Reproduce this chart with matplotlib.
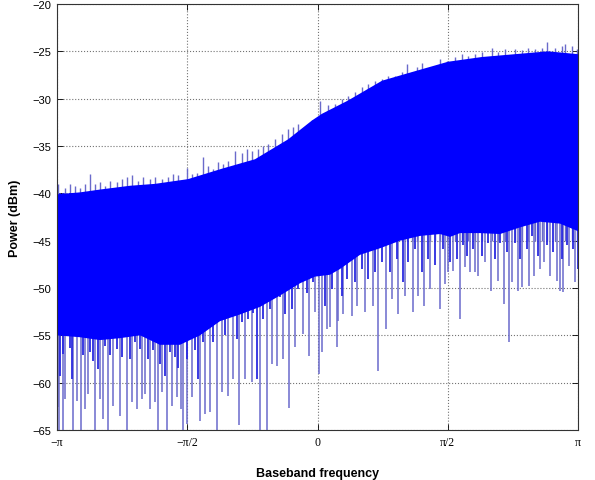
import numpy as np
import matplotlib
matplotlib.use("Agg")
import matplotlib.pyplot as plt

# frequencies below are in units of pi (-1 .. 1), power in dBm

# top edge of the solid band
top_f = [-1.0, -0.912, -0.835, -0.720, -0.624, -0.497, -0.367, -0.240, -0.113, -0.021,
         0.017, 0.117, 0.248, 0.374, 0.501, 0.631, 0.758, 0.885, 1.0]
top_db = [-40.1, -39.9, -39.6, -39.2, -39.0, -38.5, -37.4, -36.4, -34.3, -32.3,
          -31.6, -30.2, -28.1, -27.1, -26.1, -25.6, -25.3, -25.0, -25.3]

# bottom edge of the solid band
bot_f = [-1.0, -0.912, -0.835, -0.758, -0.681, -0.605, -0.528, -0.451, -0.374, -0.298,
         -0.221, -0.144, -0.067, -0.010, 0.048, 0.086, 0.163, 0.240, 0.317, 0.393,
         0.470, 0.509, 0.547, 0.624, 0.701, 0.777, 0.854, 0.931, 1.0]
bot_db = [-55.0, -55.2, -55.5, -55.3, -55.0, -56.0, -56.0, -55.0, -53.5, -52.8,
          -52.0, -50.8, -49.5, -48.8, -48.6, -48.0, -46.5, -45.8, -45.0, -44.5,
          -44.3, -44.6, -44.2, -44.2, -44.3, -43.6, -43.0, -43.2, -44.0]

# long downward spikes (tips)
dip_f = [-0.997, -0.992, -0.977, -0.969, -0.939, -0.923, -0.908, -0.893, -0.881, -0.854,
         -0.835, -0.823, -0.804, -0.785, -0.758, -0.731, -0.712, -0.693, -0.674, -0.662,
         -0.643, -0.624, -0.612, -0.597, -0.578, -0.559, -0.539, -0.524, -0.516, -0.501,
         -0.482, -0.451, -0.432, -0.413, -0.386, -0.367, -0.344, -0.324, -0.301, -0.278,
         -0.251, -0.221, -0.194, -0.175, -0.155, -0.132, -0.109, -0.086, -0.056, -0.033,
         -0.010, 0.006, 0.017, 0.036, 0.048, 0.075, 0.079, 0.098, 0.132, 0.152,
         0.182, 0.213, 0.232, 0.263, 0.286, 0.309, 0.336, 0.367, 0.386, 0.409,
         0.432, 0.470, 0.489, 0.501, 0.520, 0.547, 0.566, 0.585, 0.605, 0.616,
         0.643, 0.666, 0.693, 0.716, 0.735, 0.747, 0.770, 0.785, 0.812, 0.831,
         0.854, 0.869, 0.893, 0.919, 0.931, 0.942, 0.965, 0.988]
dip_db = [-62.6, -65.0, -65.0, -61.7, -65.0, -61.9, -65.0, -62.8, -61.2, -65.0,
          -61.7, -63.8, -65.0, -62.5, -63.5, -65.0, -62.0, -62.8, -61.7, -61.2,
          -62.8, -62.0, -65.0, -61.0, -65.0, -62.5, -61.5, -62.8, -65.0, -64.4,
          -61.5, -64.0, -63.3, -63.1, -65.0, -61.0, -61.4, -59.6, -64.5, -59.6,
          -59.9, -65.0, -65.0, -58.0, -58.2, -57.5, -62.7, -56.2, -54.9, -57.2,
          -52.5, -59.1, -56.8, -54.3, -54.1, -56.2, -53.5, -52.7, -53.0, -51.9,
          -52.5, -51.9, -58.8, -54.3, -51.2, -52.7, -50.8, -52.5, -50.8, -51.9,
          -50.1, -52.2, -49.6, -48.3, -48.2, -53.3, -47.8, -48.3, -48.3, -48.7,
          -47.3, -50.3, -49.3, -51.7, -55.7, -49.4, -50.3, -49.9, -49.8, -48.7,
          -48.0, -47.3, -48.7, -49.3, -50.3, -50.4, -47.7, -49.4]

# shorter downward spikes just below the solid band
mid_f = [-0.988, -0.976, -0.950, -0.944, -0.899, -0.873, -0.861, -0.841, -0.816, -0.797,
         -0.771, -0.752, -0.720, -0.701, -0.681, -0.650, -0.630, -0.605, -0.585, -0.566,
         -0.547, -0.534, -0.502, -0.489, -0.470, -0.458, -0.438, -0.419, -0.400, -0.374,
         -0.355, -0.329, -0.310, -0.291, -0.266, -0.246, -0.233, -0.208, -0.182, -0.170,
         -0.144, -0.125, -0.099, -0.074, -0.041, -0.016, 0.029, 0.054, 0.093, 0.112,
         0.144, 0.170, 0.195, 0.221, 0.246, 0.278, 0.304, 0.329, 0.349, 0.374,
         0.400, 0.425, 0.451, 0.483, 0.509, 0.534, 0.560, 0.573, 0.598, 0.630,
         0.656, 0.681, 0.701, 0.726, 0.758, 0.777, 0.803, 0.822, 0.848, 0.880,
         0.905, 0.937, 0.957, 0.982, 0.999]
mid_db = [-59.3, -57.0, -56.3, -59.6, -57.1, -56.8, -57.7, -58.6, -56.1, -57.1,
          -56.4, -57.3, -57.5, -55.7, -56.4, -57.5, -56.6, -58.0, -59.3, -56.8,
          -57.3, -58.4, -57.5, -55.4, -56.6, -59.6, -55.7, -54.0, -55.7, -51.3,
          -55.0, -51.9, -55.4, -53.6, -53.3, -52.6, -59.6, -53.3, -52.2, -50.6,
          -51.0, -52.7, -52.2, -50.1, -50.5, -49.4, -51.9, -50.1, -50.8, -49.0,
          -49.4, -48.0, -49.0, -48.3, -47.3, -48.3, -46.9, -49.4, -47.3, -45.9,
          -48.3, -46.9, -47.6, -45.9, -47.3, -46.9, -45.5, -46.6, -45.9, -46.6,
          -45.2, -46.9, -45.2, -46.2, -45.2, -46.9, -45.9, -44.5, -46.6, -45.5,
          -46.2, -46.9, -45.5, -45.9, -48.0]

# upward spikes above the band
peak_f = [-0.995, -0.969, -0.950, -0.931, -0.912, -0.893, -0.873, -0.854, -0.835, -0.816,
          -0.797, -0.771, -0.752, -0.732, -0.713, -0.688, -0.669, -0.643, -0.624, -0.598,
          -0.573, -0.554, -0.534, -0.502, -0.483, -0.464, -0.438, -0.419, -0.400, -0.381,
          -0.362, -0.342, -0.317, -0.291, -0.272, -0.253, -0.227, -0.208, -0.189, -0.163,
          -0.137, -0.112, -0.093, -0.074, -0.048, -0.022, 0.010, 0.041, 0.067, 0.093,
          0.118, 0.144, 0.170, 0.195, 0.221, 0.246, 0.272, 0.298, 0.323, 0.342,
          0.362, 0.381, 0.400, 0.432, 0.451, 0.470, 0.496, 0.528, 0.554, 0.579,
          0.605, 0.630, 0.669, 0.694, 0.720, 0.758, 0.784, 0.809, 0.835, 0.861,
          0.880, 0.912, 0.937, 0.950, 0.976, 0.998]
peak_db = [-39.0, -39.4, -39.0, -39.2, -39.4, -39.0, -38.0, -39.0, -38.8, -39.2,
           -38.7, -38.8, -38.5, -38.3, -38.1, -38.7, -38.3, -38.5, -38.3, -38.5,
           -38.3, -38.0, -38.1, -37.3, -38.0, -37.8, -36.2, -37.1, -37.4, -36.7,
           -36.9, -36.6, -35.5, -35.7, -35.3, -35.5, -35.3, -35.0, -34.8, -34.3,
           -33.7, -33.2, -33.0, -32.7, -33.0, -32.3, -30.2, -30.7, -30.6, -30.0,
           -29.7, -29.3, -28.8, -28.5, -28.1, -27.9, -27.6, -27.6, -27.2, -26.3,
           -27.2, -26.7, -26.2, -26.7, -26.5, -25.8, -26.0, -25.6, -25.3, -25.5,
           -25.3, -25.1, -24.6, -25.1, -24.8, -24.8, -24.9, -24.6, -24.8, -24.6,
           -24.0, -24.6, -24.4, -24.2, -24.4, -24.8]

xtick_pos = [-1, -0.5, 0, 0.5, 1]
xtick_lab = ["\u2212\u03c0", "\u2212\u03c0/2", "0", "\u03c0/2", "\u03c0"]
ytick_vals = [-65, -60, -55, -50, -45, -40, -35, -30, -25, -20]

plt.rcParams['font.family'] = ['Liberation Sans', 'DejaVu Sans']

fig = plt.figure(figsize=(5.95, 4.81), dpi=100)
ax = fig.add_axes([57/595, 50/481, 521/595, 426/481])

pi = np.pi
band_x = np.concatenate([np.array(top_f), np.array(bot_f)[::-1]]) * pi
band_y = np.concatenate([np.array(top_db), np.array(bot_db)[::-1]])

spike_col = '#6a6acb'
ax.vlines(np.array(dip_f)*pi, dip_db, -40, color=spike_col, lw=1.1, zorder=2)
ax.vlines(np.array(mid_f)*pi, mid_db, -40, color='#2a2ae0', lw=1.3, zorder=2.2)
ax.vlines(np.array(peak_f)*pi, -45, peak_db, color=spike_col, lw=1.0, zorder=2)
ax.fill(band_x, band_y, color='#0000ff', lw=0, zorder=3)

ax.set_xlim(-pi, pi)
ax.set_ylim(-65, -20)
ax.set_xticks(np.array(xtick_pos)*pi)
ax.set_xticklabels(xtick_lab, fontsize=8.5, family=['Liberation Serif', 'DejaVu Serif'])
ax.set_yticks(ytick_vals)
ax.set_yticklabels([str(v).replace('-', '\u2212') for v in ytick_vals], fontsize=8)
ax.tick_params(direction='in', top=True, right=True, length=4, width=0.6, pad=4)
ax.set_axisbelow(True)
ax.grid(True, linestyle=':', color='0.45', lw=0.8)
for s in ax.spines.values():
    s.set_linewidth(0.8)
    s.set_color('0.2')
    s.set_zorder(5)

ax.set_xlabel('Baseband frequency', fontsize=9, fontweight='bold', labelpad=14)
ax.set_ylabel('Power (dBm)', fontsize=9, fontweight='bold', labelpad=8)

fig.savefig('out.png', dpi=100)
